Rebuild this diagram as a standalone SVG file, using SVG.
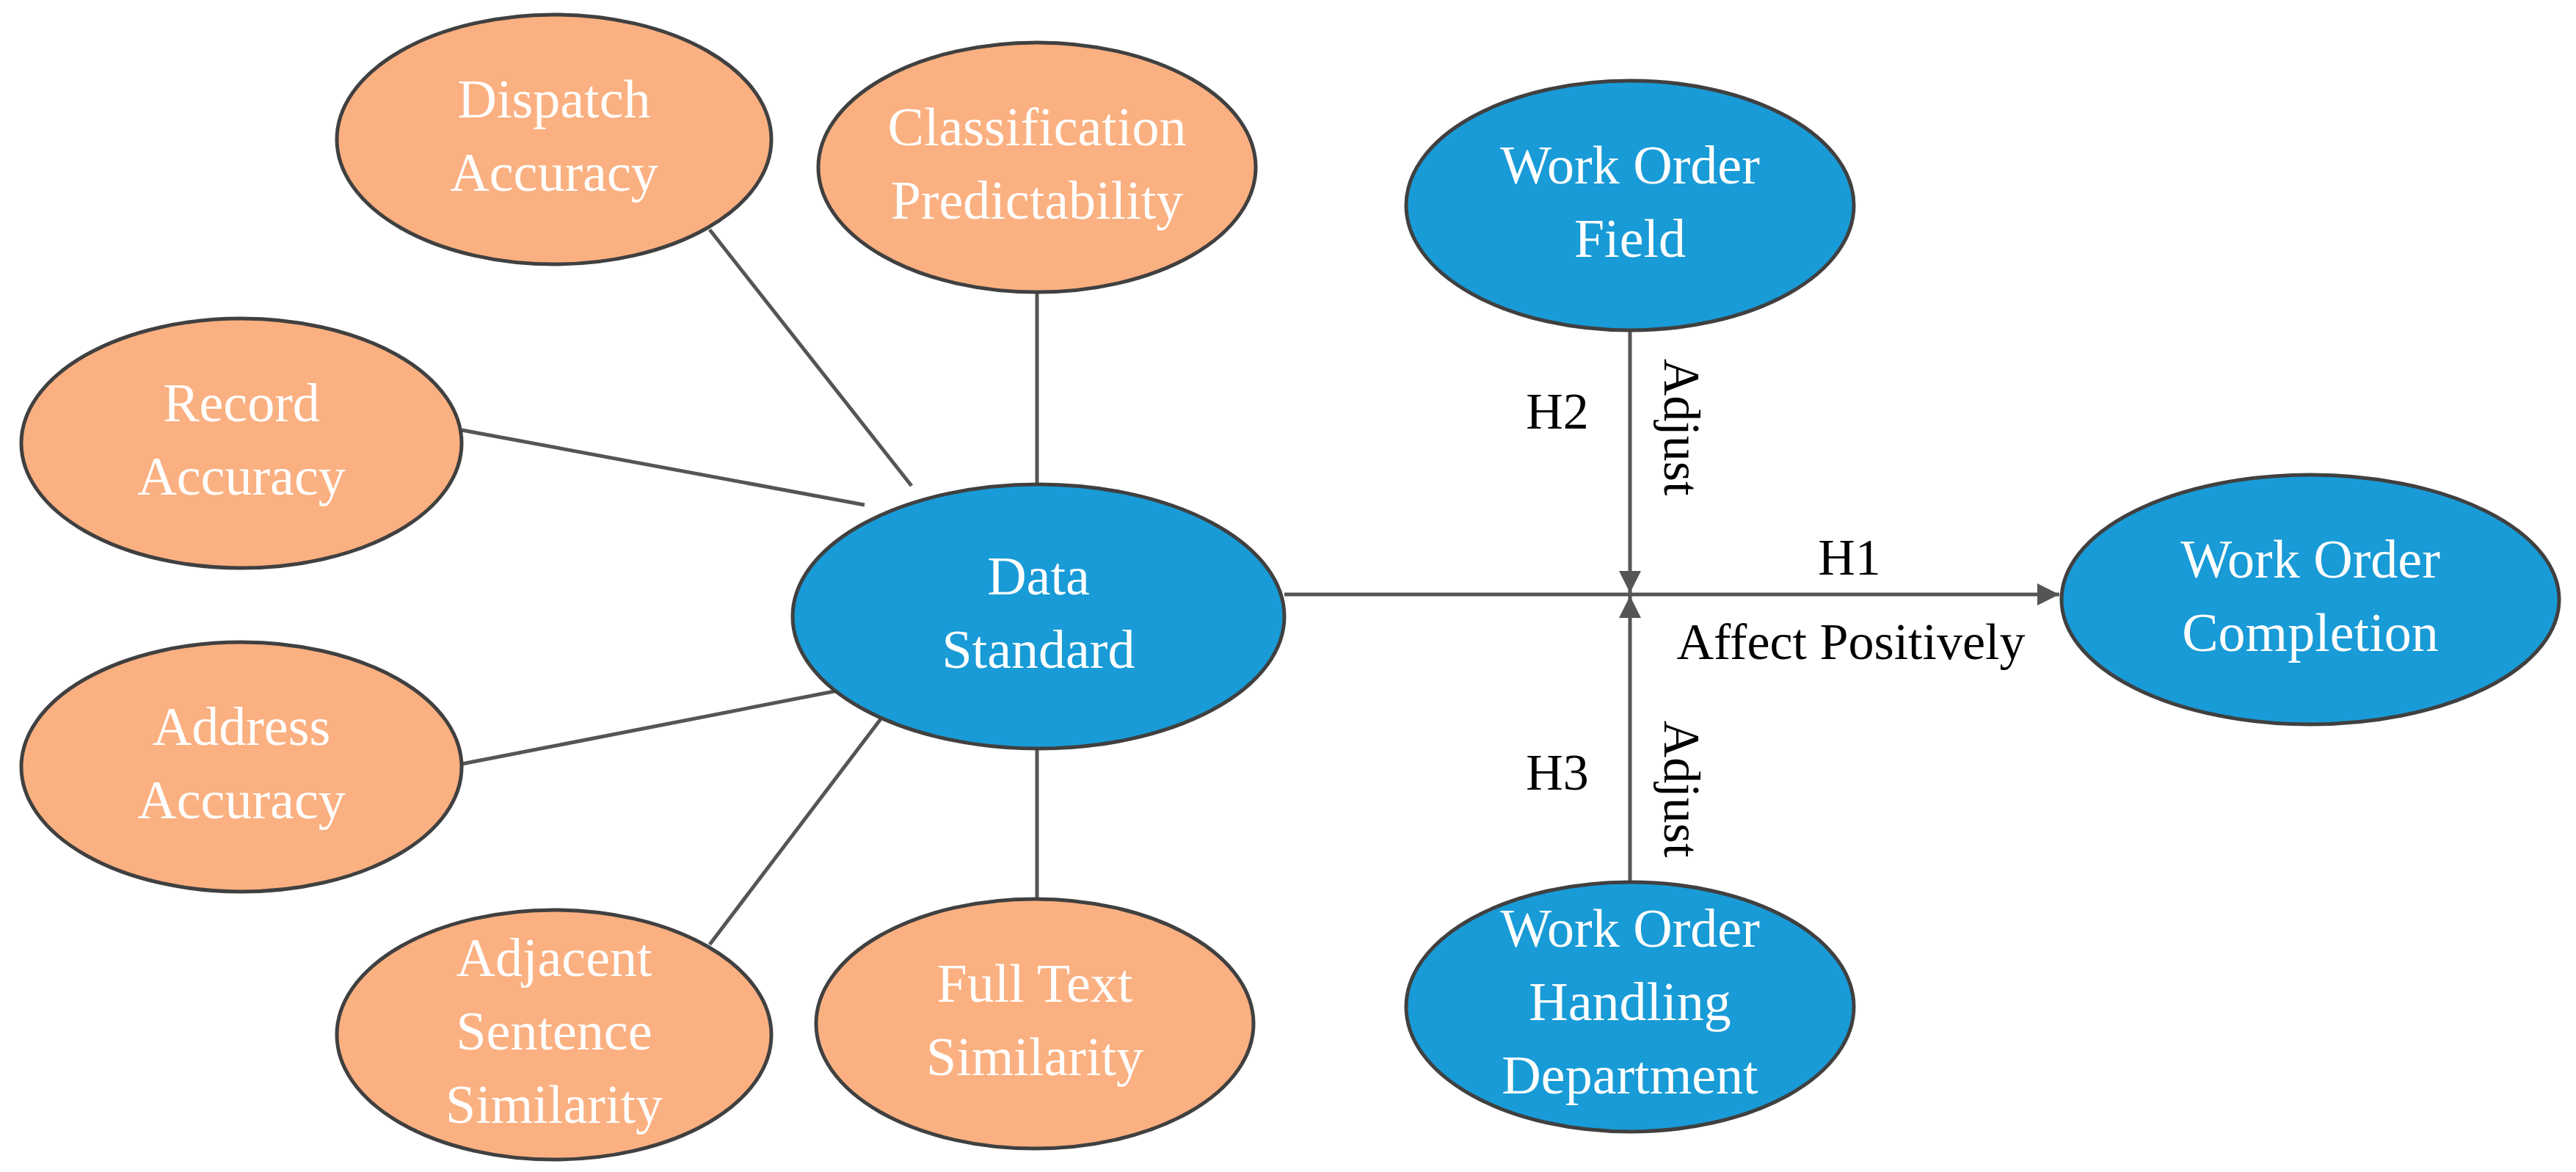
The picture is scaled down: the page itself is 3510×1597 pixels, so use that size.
<svg xmlns="http://www.w3.org/2000/svg" width="3510" height="1597" viewBox="0 0 3510 1597">
<style>
.o{fill:#FBB081;stroke:#404040;stroke-width:5}
.b{fill:#189BD7;stroke:#404040;stroke-width:5}
.t{font-family:"Liberation Serif",serif;font-size:74px;fill:#fff;text-anchor:middle}
.l{font-family:"Liberation Serif",serif;font-size:70px;fill:#000}
.c{stroke:#555;stroke-width:5;fill:none}
</style>
<defs><marker id="a" viewBox="0 0 10 10" refX="10" refY="5" markerWidth="6" markerHeight="6" markerUnits="strokeWidth" orient="auto"><path d="M0,0L10,5L0,10z" fill="#555"/></marker></defs>
<rect width="3510" height="1597" fill="#fff"/>
<g id="connectors">
<line class="c" x1="967" y1="313" x2="1242" y2="662"/>
<line class="c" x1="1413" y1="398" x2="1413" y2="662"/>
<line class="c" x1="629" y1="586" x2="1178" y2="688"/>
<line class="c" x1="629" y1="1041" x2="1178" y2="934"/>
<line class="c" x1="967" y1="1287" x2="1215" y2="960"/>
<line class="c" x1="1413" y1="1018" x2="1413" y2="1225"/>
<line class="c" x1="1750" y1="810" x2="2806" y2="810" marker-end="url(#a)"/>
<line class="c" x1="2221" y1="450" x2="2221" y2="808" marker-end="url(#a)"/>
<line class="c" x1="2221" y1="1202" x2="2221" y2="812" marker-end="url(#a)"/>
<text class="l" x="2122" y="584" text-anchor="middle">H2</text>
<text class="l" transform="translate(2268,582) rotate(90)" text-anchor="middle">Adjust</text>
<text class="l" x="2520" y="783" text-anchor="middle">H1</text>
<text class="l" x="2522" y="898" text-anchor="middle">Affect Positively</text>
<text class="l" x="2122" y="1076" text-anchor="middle">H3</text>
<text class="l" transform="translate(2268,1075) rotate(90)" text-anchor="middle">Adjust</text>
</g>
<g id="dispatch"><ellipse class="o" cx="755" cy="190" rx="296" ry="170"/><text class="t" x="755" y="160">Dispatch</text><text class="t" x="755" y="260">Accuracy</text></g>
<g id="classification"><ellipse class="o" cx="1413" cy="228" rx="298" ry="170"/><text class="t" x="1413" y="198">Classification</text><text class="t" x="1413" y="298">Predictability</text></g>
<g id="record"><ellipse class="o" cx="329" cy="604" rx="300" ry="170"/><text class="t" x="329" y="574">Record</text><text class="t" x="329" y="674">Accuracy</text></g>
<g id="data-standard"><ellipse class="b" cx="1415" cy="840" rx="335" ry="180"/><text class="t" x="1415" y="810">Data</text><text class="t" x="1415" y="910">Standard</text></g>
<g id="address"><ellipse class="o" cx="329" cy="1045" rx="300" ry="170"/><text class="t" x="329" y="1015">Address</text><text class="t" x="329" y="1115">Accuracy</text></g>
<g id="adjacent"><ellipse class="o" cx="755" cy="1410" rx="296" ry="170"/><text class="t" x="755" y="1330">Adjacent</text><text class="t" x="755" y="1430">Sentence</text><text class="t" x="755" y="1530">Similarity</text></g>
<g id="fulltext"><ellipse class="o" cx="1410" cy="1395" rx="298" ry="170"/><text class="t" x="1410" y="1365">Full Text</text><text class="t" x="1410" y="1465">Similarity</text></g>
<g id="wo-field"><ellipse class="b" cx="2221" cy="280" rx="305" ry="170"/><text class="t" x="2221" y="250">Work Order</text><text class="t" x="2221" y="350">Field</text></g>
<g id="wo-completion"><ellipse class="b" cx="3148" cy="817" rx="339" ry="170"/><text class="t" x="3148" y="787">Work Order</text><text class="t" x="3148" y="887">Completion</text></g>
<g id="wo-handling"><ellipse class="b" cx="2221" cy="1372" rx="305" ry="170"/><text class="t" x="2221" y="1290">Work Order</text><text class="t" x="2221" y="1390">Handling</text><text class="t" x="2221" y="1490">Department</text></g>
</svg>
